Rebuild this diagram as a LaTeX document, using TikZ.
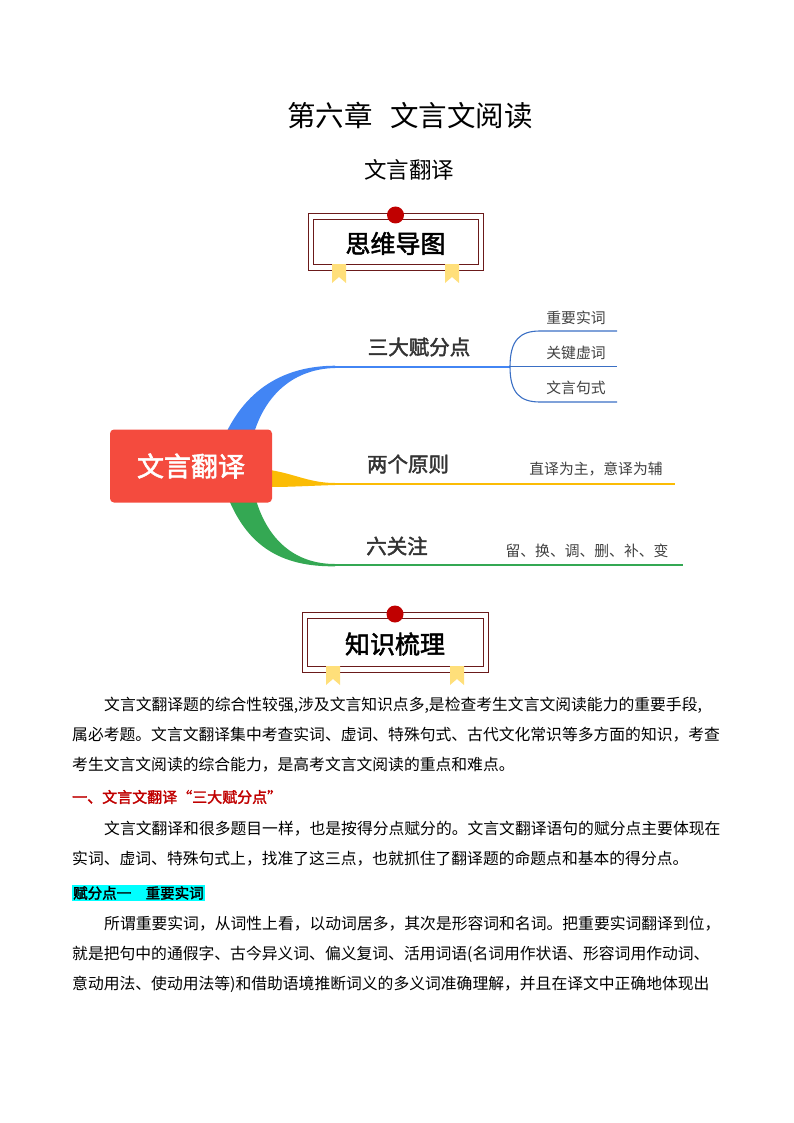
\documentclass[tikz,border=0pt]{standalone}
\usepackage{fontspec}
\setmainfont{Noto Sans CJK SC}
\newfontfamily\cjkb[FakeBold=2]{Noto Sans CJK SC}
\definecolor{gblue}{HTML}{4285F4}
\definecolor{gyel}{HTML}{FBBC05}
\definecolor{ggreen}{HTML}{34A853}
\definecolor{boxred}{HTML}{F44B3E}
\definecolor{frame}{HTML}{6B1A1A}
\definecolor{dotred}{HTML}{C00000}
\definecolor{rib}{HTML}{FFDF7A}
\definecolor{subblue}{HTML}{3A6FC4}
\definecolor{txtred}{HTML}{C00000}
\definecolor{hl}{HTML}{00FFFF}
\tikzset{
 para/.style={anchor=west,inner sep=0,font=\fontsize{15.8}{15.8}\selectfont},
 lab/.style={font=\fontsize{20.5}{20.5}\selectfont\cjkb, text=black!80, inner sep=0},
 sub/.style={font=\fontsize{14.8}{14.8}\selectfont, text=black!75, inner sep=0},
}
\newcommand\headbox[6]{% x1 x2 y1 y2 name text
 \draw[frame,line width=0.8pt] (#1,#3) rectangle (#2,#4);
 \draw[frame,line width=0.8pt] (#1+5,#3+6) rectangle (#2-5,#4-6);
 \fill[rib] ({#1+24},#4-6) -- ({#1+38},#4-6) -- ({#1+38},#4+13) -- ({#1+31},#4+7) -- ({#1+24},#4+13) -- cycle;
 \fill[rib] ({#2-38},#4-6) -- ({#2-24},#4-6) -- ({#2-24},#4+13) -- ({#2-31},#4+7) -- ({#2-38},#4+13) -- cycle;
 \fill[dotred] ({(#1+#2)/2},#3+2) circle (8.5);
 \node[font=\fontsize{25}{25}\selectfont\cjkb,inner sep=0] (#5) at ({(#1+#2)/2},{(#3+#4)/2+2}) {#6};
}
\begin{document}
\begin{tikzpicture}[x=1pt,y=-1pt]
\useasboundingbox (0,0) rectangle (794,1123);
\node[font=\fontsize{28.5}{28.5}\selectfont] (title) at (410,116) {第六章\hspace{0.6em}文言文阅读};
\node[font=\fontsize{22.5}{22.5}\selectfont] (sub) at (409,170) {文言翻译};
\headbox{308}{483}{213}{270}{h1}{思维导图}
% mind map branches
\fill[gblue] (226,433) .. controls (248,388) and (285,366) .. (335,365.7) -- (335,368) .. controls (294,369) and (266,394) .. (254,433) -- cycle;
\draw[gblue,line width=1.5pt] (334,366.8) -- (510,366.8);
\fill[gyel] (270,470) .. controls (295,474) and (310,483) .. (335,483) -- (335,485) .. controls (305,486) and (290,487) .. (270,487) -- cycle;
\draw[gyel,line width=1.6pt] (334,484) -- (675,484);
\fill[ggreen] (256,500) .. controls (268,540) and (295,564) .. (335,564) -- (335,566.3) .. controls (280,567) and (248,545) .. (229,500) -- cycle;
\draw[ggreen,line width=1.6pt] (334,565.2) -- (683,565.2);
\node[fill=boxred,rounded corners=4pt,minimum width=162pt,minimum height=73pt,text=white,font=\fontsize{27}{27}\selectfont\cjkb] (root) at (191,466) {文言翻译};
% sub bracket
\coordinate (bk) at (510,366.8);
\draw[subblue,line width=1.1pt] (bk) .. controls (510,340) and (520,331) .. (540,331) -- (617,331);
\draw[subblue,line width=1.1pt] (bk) -- (617,366.8);
\draw[subblue,line width=1.1pt] (bk) .. controls (510,393) and (520,402) .. (540,402) -- (617,402);
\node[lab] (b1) at (419,347) {三大赋分点};
\node[lab] (b2) at (408,464) {两个原则};
\node[lab] (b3) at (397,546) {六关注};
\node[sub] (s1) at (576,318) {重要实词};
\node[sub] (s2) at (576,353) {关键虚词};
\node[sub] (s3) at (576,388) {文言句式};
\node[sub] (y1) at (596,469) {直译为主，意译为辅};
\node[sub] (g1) at (587,551) {留、换、调、删、补、变};
\headbox{302}{488}{612}{672}{h2}{知识梳理}
% text
\node[para] (p1) at (104,705) {文言文翻译题的综合性较强,涉及文言知识点多,是检查考生文言文阅读能力的重要手段,};
\node[para] (p2) at (72,735) {属必考题。文言文翻译集中考查实词、虚词、特殊句式、古代文化常识等多方面的知识，考查};
\node[para] (p3) at (72,765) {考生文言文阅读的综合能力，是高考文言文阅读的重点和难点。};
\node[para,text=txtred,font=\fontsize{15}{15}\selectfont\cjkb] (h) at (72,797) {一、文言文翻译“三大赋分点”};
\node[para] (p4) at (104,829) {文言文翻译和很多题目一样，也是按得分点赋分的。文言文翻译语句的赋分点主要体现在};
\node[para] (p5) at (72,859) {实词、虚词、特殊句式上，找准了这三点，也就抓住了翻译题的命题点和基本的得分点。};
\node[para,fill=hl,inner sep=1pt,font=\fontsize{14.5}{14.5}\selectfont\cjkb] (h2t) at (72,893) {赋分点一\hspace{1em}重要实词};
\node[para] (p6) at (104,924) {所谓重要实词，从词性上看，以动词居多，其次是形容词和名词。把重要实词翻译到位，};
\node[para] (p7) at (72,954) {就是把句中的通假字、古今异义词、偏义复词、活用词语(名词用作状语、形容词用作动词、};
\node[para] (p8) at (72,984) {意动用法、使动用法等)和借助语境推断词义的多义词准确理解，并且在译文中正确地体现出};
\end{tikzpicture}
\end{document}
